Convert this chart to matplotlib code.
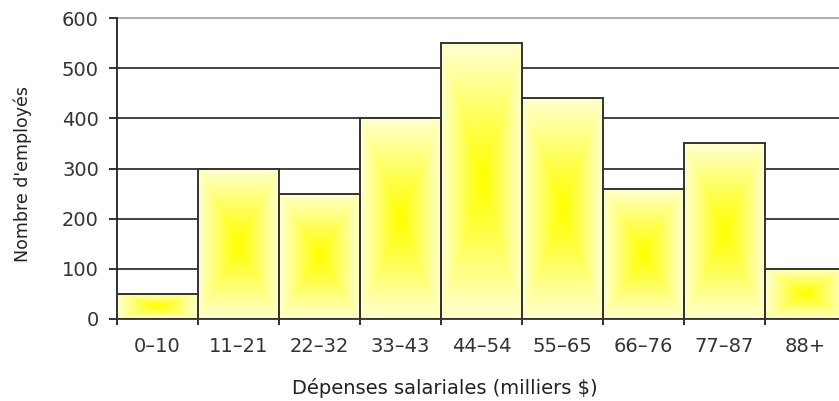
import numpy as np
import matplotlib.pyplot as plt
from matplotlib.colors import to_rgb

categories = ["0–10", "11–21", "22–32", "33–43", "44–54",
              "55–65", "66–76", "77–87", "88+"]
employes = [50, 300, 250, 400, 550, 440, 260, 350, 100]
y_ticks = [0, 100, 200, 300, 400, 500, 600]

plt.rcParams["font.family"] = "DejaVu Sans"

W, H = 839, 401
fig = plt.figure(figsize=(W / 100, H / 100), dpi=100)
# the plot area runs past the right edge of the figure
ax = fig.add_axes([117 / W, 82 / H, (846 - 117) / W, 301 / H])

pale = np.array(to_rgb("#ffffd2"))
jaune = np.array(to_rgb("#ffff00"))


def gradient_rect(n=200):
    # rectangular gradient: yellow in the centre, pale at the edges
    u = np.linspace(-1, 1, n)
    uu, vv = np.meshgrid(u, u)
    t = np.maximum(np.abs(uu), np.abs(vv))
    t = np.clip(t, 0, 1) ** 1.1
    return pale * t[..., None] + jaune * (1 - t[..., None])


grad = gradient_rect()
for i, h in enumerate(employes):
    ax.imshow(grad, extent=(i, i + 1, 0, h), aspect="auto",
              interpolation="bilinear", zorder=2)
ax.bar(np.arange(len(employes)), employes, width=1, align="edge",
       fill=False, edgecolor="#333333", linewidth=1.4, zorder=3)

# horizontal grid lines
for yv in y_ticks[1:-1]:
    ax.axhline(yv, color="#333333", lw=1.3, zorder=1)
ax.axhline(y_ticks[-1], color="#a8a8a8", lw=1.3, zorder=1, clip_on=False)

ax.set_xlim(0, len(categories))
ax.set_ylim(0, 600)

ax.set_yticks(y_ticks)
ax.set_xticks(np.arange(len(categories) + 1))
ax.set_xticklabels([])
ax.set_xticks(np.arange(len(categories)) + 0.5, categories, minor=True)
ax.tick_params(axis="x", which="major", length=4.5, width=1.3,
               color="#222222")
ax.tick_params(axis="x", which="minor", length=0, pad=13,
               labelsize=14, labelcolor="#333333")
ax.tick_params(axis="y", length=6, width=1.3, color="#222222",
               pad=7, labelsize=14, labelcolor="#333333")

for side in ["top", "right"]:
    ax.spines[side].set_visible(False)
ax.spines["left"].set_color("#222222")
ax.spines["left"].set_linewidth(1.3)
ax.spines["bottom"].set_color("#333333")
ax.spines["bottom"].set_linewidth(1.3)
ax.spines["bottom"].set_zorder(4)

fig.text(445 / W, 1 - 388 / H, "Dépenses salariales (milliers $)",
         ha="center", va="center", fontsize=14, color="#222222")
fig.text(23 / W, 1 - 174 / H, "Nombre d'employés", rotation=90,
         ha="center", va="center", fontsize=12.5, color="#222222")

fig.savefig("out.png", dpi=100)
